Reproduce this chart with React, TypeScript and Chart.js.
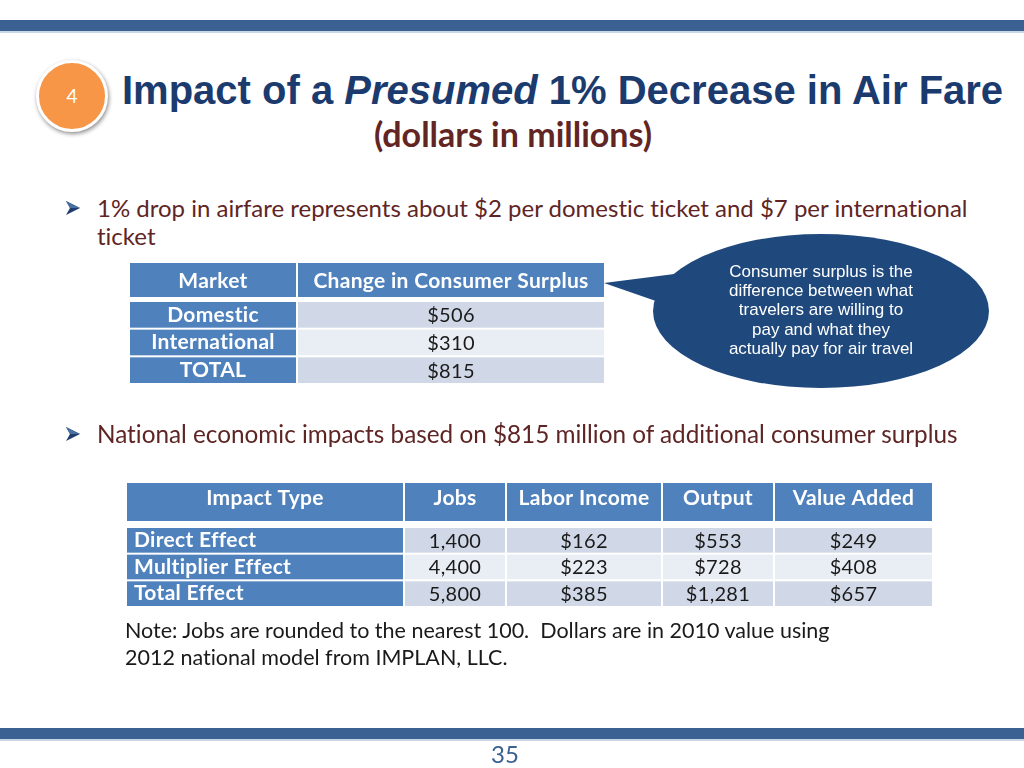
import React, { useEffect, useRef } from "react";
import { Chart, registerables } from "chart.js";

Chart.register(...registerables);

// ---- Data ----
const marketHeaders = ["Market", "Change in Consumer Surplus"];
const markets = ["Domestic", "International", "TOTAL"];
const surplus = ["$506", "$310", "$815"];

const impactHeaders = ["Impact Type", "Jobs", "Labor Income", "Output", "Value Added"];
const impactTypes = ["Direct Effect", "Multiplier Effect", "Total Effect"];
const jobs = ["1,400", "4,400", "5,800"];
const laborIncome = ["$162", "$223", "$385"];
const output = ["$553", "$728", "$1,281"];
const valueAdded = ["$249", "$408", "$657"];

const calloutLines = [
  "Consumer surplus is the",
  "difference between what",
  "travelers are willing to",
  "pay and what they",
  "actually pay for air travel",
];

const HEADER_BLUE = "#4F81BD";
const ROW_DARK = "#D0D8E8";
const ROW_LIGHT = "#E9EDF4";

const tablePlugin = {
  id: "tablePlugin",
  afterDraw(chart: any) {
    const o = chart.options.plugins.tablePlugin;
    if (!o) return;
    const ctx = chart.ctx;
    const xs = chart.scales.x;
    const ys = chart.scales.y;
    const area = chart.chartArea;
    const n = o.columns[0].length;
    const band = (area.bottom - area.top) / n;
    ctx.save();
    try {
      (ctx as any).letterSpacing = "0.3px";
    } catch (e) {}
    // header
    o.headers.forEach((h: string, ci: number) => {
      const [a, b] = o.colEdges[ci];
      const x0 = xs.getPixelForValue(a);
      const x1 = xs.getPixelForValue(b);
      ctx.fillStyle = HEADER_BLUE;
      ctx.fillRect(x0, 0, x1 - x0, o.headerHeight);
      ctx.fillStyle = "#FFFFFF";
      ctx.font = o.headerFont;
      ctx.textAlign = "center";
      ctx.textBaseline = "middle";
      ctx.fillText(h, (x0 + x1) / 2, o.headerTextY);
    });
    // rows
    for (let ri = 0; ri < n; ri++) {
      const cy = ys.getPixelForValue(ri);
      const y0 = cy - band / 2 + 1;
      const y1 = cy + band / 2 - 1;
      o.columns.forEach((col: string[], ci: number) => {
        const [a, b] = o.colEdges[ci];
        const x0 = xs.getPixelForValue(a);
        const x1 = xs.getPixelForValue(b);
        ctx.fillStyle = ci === 0 ? HEADER_BLUE : ri % 2 === 0 ? ROW_DARK : ROW_LIGHT;
        ctx.fillRect(x0, y0, x1 - x0, y1 - y0);
        ctx.textBaseline = "middle";
        if (ci === 0) {
          ctx.fillStyle = "#FFFFFF";
          ctx.font = o.labelFont;
          if (o.firstAlign === "left") {
            ctx.textAlign = "left";
            ctx.fillText(col[ri], x0 + 7, cy + o.textDy);
          } else {
            ctx.textAlign = "center";
            ctx.fillText(col[ri], (x0 + x1) / 2, cy + o.textDy);
          }
        } else {
          ctx.fillStyle = "#1A1A1A";
          ctx.font = o.valueFont;
          ctx.textAlign = "center";
          ctx.fillText(col[ri], (x0 + x1) / 2, cy + o.textDy + 1);
        }
      });
    }
    ctx.restore();
  },
};

function TableChart(props: {
  width: number;
  height: number;
  headers: string[];
  columns: string[][];
  colEdges: number[][];
  headerHeight: number;
  headerTextY: number;
  bodyTop: number;
  firstAlign: string;
  headerFont: string;
  labelFont: string;
  valueFont: string;
  textDy: number;
}) {
  const ref = useRef<HTMLCanvasElement | null>(null);
  useEffect(() => {
    if (!ref.current) return;
    const chart = new Chart(ref.current, {
      type: "bar",
      data: {
        labels: props.columns[0],
        datasets: [],
      },
      options: {
        animation: false,
        responsive: false,
        indexAxis: "y",
        layout: { padding: { top: props.bodyTop, left: 0, right: 0, bottom: 0 } },
        scales: {
          x: { type: "linear", min: 0, max: props.width, display: false },
          y: { type: "category", offset: true, display: false },
        },
        plugins: {
          legend: { display: false },
          tooltip: { enabled: false },
          tablePlugin: {
            headers: props.headers,
            columns: props.columns,
            colEdges: props.colEdges,
            headerHeight: props.headerHeight,
            headerTextY: props.headerTextY,
            firstAlign: props.firstAlign,
            headerFont: props.headerFont,
            labelFont: props.labelFont,
            valueFont: props.valueFont,
            textDy: props.textDy,
          },
        } as any,
      } as any,
      plugins: [tablePlugin],
    });
    return () => chart.destroy();
  }, []);
  return <canvas ref={ref} width={props.width} height={props.height} style={{ display: "block" }} />;
}

const body = "Lato, 'Open Sans', sans-serif";

function Arrow({ x, y }: { x: number; y: number }) {
  return (
    <svg style={{ position: "absolute", left: x, top: y }} width={16} height={16} viewBox="0 0 16 16">
      <path d="M1 1 L15 8 L1 15 L5 8 Z" fill="#1F3E6E" />
      <path d="M1 1 L15 8 L5 8 Z" fill="#4A6FA0" />
    </svg>
  );
}

export default function App() {
  return (
    <div
      style={{
        position: "absolute",
        left: 0,
        top: 0,
        width: 1024,
        height: 768,
        background: "#FFFFFF",
        overflow: "hidden",
        fontFamily: body,
        fontVariantLigatures: "none",
      }}
    >
      {/* top band */}
      <div style={{ position: "absolute", left: 0, top: 20, width: 1024, height: 11, background: "#3A6191" }} />
      <div style={{ position: "absolute", left: 0, top: 31, width: 1024, height: 2, background: "#C9D6E6" }} />
      {/* bottom band */}
      <div style={{ position: "absolute", left: 0, top: 728, width: 1024, height: 11, background: "#3A6191" }} />
      <div style={{ position: "absolute", left: 0, top: 739, width: 1024, height: 2, background: "#C9D6E6" }} />

      {/* badge */}
      <div
        style={{
          position: "absolute",
          left: 36,
          top: 60,
          width: 66,
          height: 66,
          borderRadius: "50%",
          background: "#F79646",
          border: "3px solid #FFFFFF",
          boxShadow: "1px 2px 4px rgba(0,0,0,0.45)",
          color: "#FFFFFF",
          fontSize: 19,
          lineHeight: "66px",
          textAlign: "center",
          boxSizing: "content-box",
        }}
      >
        4
      </div>

      {/* title */}
      <div
        style={{
          position: "absolute",
          left: 122,
          top: 67,
          whiteSpace: "nowrap",
          fontFamily: "'Liberation Sans', Arial, sans-serif",
          fontWeight: "bold",
          fontSize: 40,
          lineHeight: "46px",
          color: "#1B3B6F",
        }}
      >
        Impact of a <i>Presumed</i> 1% Decrease in Air Fare
      </div>
      <div
        style={{
          position: "absolute",
          left: 0,
          width: 1026,
          top: 112,
          textAlign: "center",
          fontWeight: "bold",
          fontSize: 34,
          lineHeight: "44px",
          color: "#632523",
        }}
      >
        (dollars in millions)
      </div>

      {/* bullet 1 */}
      <Arrow x={65} y={200} />
      <div
        style={{
          position: "absolute",
          left: 97,
          top: 194,
          width: 900,
          fontSize: 24,
          lineHeight: "28px",
          color: "#5F2525",
        }}
      >
        1% drop in airfare represents about $2 per domestic ticket and $7 per international
        <br />
        ticket
      </div>

      {/* table 1 */}
      <div style={{ position: "absolute", left: 130, top: 263 }}>
        <TableChart
          width={474}
          height={121}
          headers={marketHeaders}
          columns={[markets, surplus]}
          colEdges={[
            [0, 166],
            [168, 474],
          ]}
          headerHeight={34}
          headerTextY={18}
          bodyTop={38}
          firstAlign="center"
          headerFont={"bold 21px Lato"}
          labelFont={"bold 21px Lato"}
          valueFont={"20px Lato"}
          textDy={0}
        />
      </div>

      {/* callout */}
      <svg style={{ position: "absolute", left: 0, top: 0 }} width={1024} height={768}>
        <path d="M604 283 L690 272 L676 308 Z" fill="#1F497D" />
        <ellipse cx={821} cy={311} rx={168} ry={77} fill="#1F497D" />
      </svg>
      <div
        style={{
          position: "absolute",
          left: 671,
          top: 262,
          width: 300,
          textAlign: "center",
          color: "#FFFFFF",
          fontFamily: "'Liberation Sans', Arial, sans-serif",
          fontSize: 17,
          lineHeight: "19.2px",
          whiteSpace: "nowrap",
        }}
      >
        {calloutLines.map((l, i) => (
          <div key={i} style={{ height: 19.2 }}>
            {l}
          </div>
        ))}
      </div>

      {/* bullet 2 */}
      <Arrow x={65} y={426} />
      <div
        style={{
          position: "absolute",
          left: 97,
          top: 420,
          width: 900,
          fontSize: 24.3,
          lineHeight: "28px",
          color: "#5F2525",
          whiteSpace: "nowrap",
        }}
      >
        National economic impacts based on $815 million of additional consumer surplus
      </div>

      {/* table 2 */}
      <div style={{ position: "absolute", left: 127, top: 483 }}>
        <TableChart
          width={805}
          height={124}
          headers={impactHeaders}
          columns={[impactTypes, jobs, laborIncome, output, valueAdded]}
          colEdges={[
            [0, 276],
            [278, 378],
            [380, 534],
            [536, 646],
            [648, 805],
          ]}
          headerHeight={38}
          headerTextY={15}
          bodyTop={44}
          firstAlign="left"
          headerFont={"bold 21px Lato"}
          labelFont={"bold 21px Lato"}
          valueFont={"20px Lato"}
          textDy={0}
        />
      </div>

      {/* note */}
      <div
        style={{
          position: "absolute",
          left: 125,
          top: 617,
          width: 760,
          fontSize: 21.5,
          lineHeight: "27px",
          color: "#1A1A1A",
          whiteSpace: "nowrap",
        }}
      >
        Note: Jobs are rounded to the nearest 100.&nbsp; Dollars are in 2010 value using
        <br />
        2012 national model from IMPLAN, LLC.
      </div>

      {/* page number */}
      <div
        style={{
          position: "absolute",
          left: 0,
          width: 1010,
          top: 742,
          textAlign: "center",
          fontSize: 24,
          lineHeight: "24px",
          color: "#3A6191",
        }}
      >
        35
      </div>
    </div>
  );
}
